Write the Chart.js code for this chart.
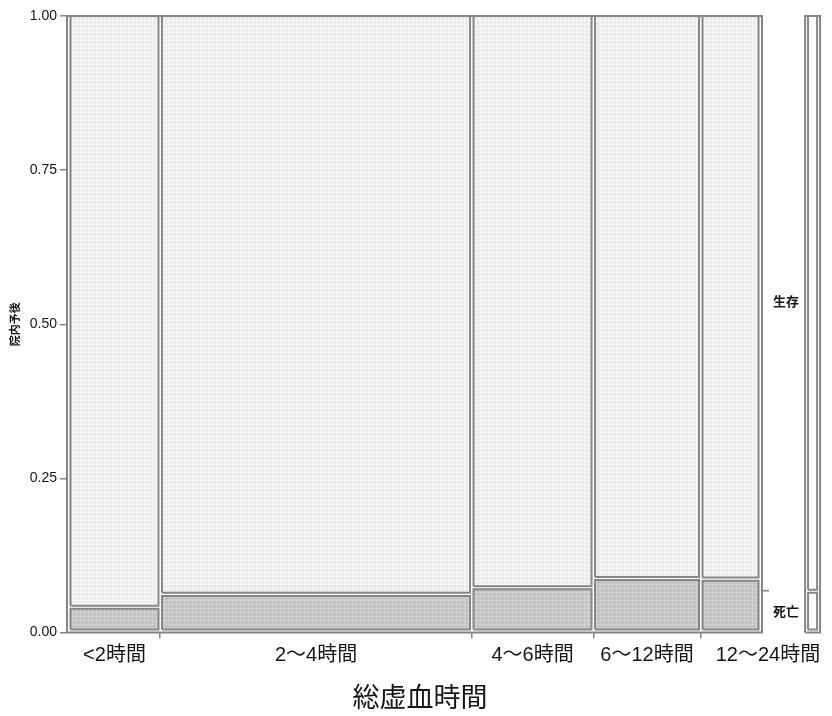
<!DOCTYPE html>
<html lang="ja">
<head>
<meta charset="utf-8">
<title>総虚血時間と院内予後</title>
<script src="https://cdn.jsdelivr.net/npm/chart.js@4"></script>
<style>
  html, body { margin: 0; padding: 0; background: #fff; }
  #wrap { width: 832px; height: 716px; position: relative; }
</style>
</head>
<body>
<div id="wrap"><canvas id="c"></canvas></div>
<script>
// 総虚血時間の区分（横軸）
const categories = ['<2時間', '2〜4時間', '4〜6時間', '6〜12時間', '12〜24時間'];
// 区分ごとの症例数（列の幅になる）
const patients = [88, 308, 118, 104, 56];
// 区分ごとの院内死亡の割合
const deathRate = [0.034, 0.055, 0.066, 0.081, 0.080];
// 縦軸の目盛り
const yTicks = [0, 0.25, 0.5, 0.75, 1];
// 院内予後の水準
const outcomes = ['生存', '死亡'];
const yTitle = '院内予後';
const xTitle = '総虚血時間';

// --- layout of the mosaic (in axis units) ---
const GAP_X = 0.005;              // space between columns
const GAP_Y = 0.005;              // space between stacked cells
const MARGIN_X = [1.062, 1.0835]; // overall-proportion bar beside the plot
const FONT = "'Liberation Sans', 'Noto Sans CJK JP', sans-serif";
const LINE = '#868686';
const TEXT = '#151515';

Chart.defaults.font.family = FONT;

const canvas = document.getElementById('c');
const ctx0 = canvas.getContext('2d');

// fine grid texture used by the cells
function texture(base, line) {
  const t = document.createElement('canvas');
  t.width = 4; t.height = 4;
  const g = t.getContext('2d');
  g.fillStyle = base; g.fillRect(0, 0, 4, 4);
  g.fillStyle = line; g.fillRect(0, 0, 4, 1); g.fillRect(0, 0, 1, 4);
  return ctx0.createPattern(t, 'repeat');
}
const fillAlive = texture('#ebebeb', '#f5f5f5');
const fillDead = texture('#c3c3c3', '#d0d0d0');

function rect(x0, x1, y0, y1) {
  return [{x: x0, y: y0}, {x: x0, y: y1}, {x: x1, y: y1}, {x: x1, y: y0}, {x: x0, y: y0}];
}

// column extents from the case counts
const total = patients.reduce((a, b) => a + b, 0);
const usableX = 1 - (categories.length + 1) * GAP_X;
const usableY = 1 - 2 * GAP_Y;
const columns = [];
let cursor = GAP_X;
patients.forEach((n, i) => {
  const w = n / total * usableX;
  columns.push({x0: cursor, x1: cursor + w, rate: deathRate[i]});
  cursor += w + GAP_X;
});
const boundaries = columns.slice(0, -1).map(c => c.x1 + GAP_X / 2);

// overall death proportion, weighted by case count
const overallRate = patients.reduce((s, n, i) => s + n * deathRate[i], 0) / total;

function cellSets(x0, x1, rate) {
  const split = GAP_Y + rate * usableY;
  return [
    {data: rect(x0, x1, split + GAP_Y, 1), backgroundColor: fillAlive, fill: 'shape'},
    {data: rect(x0, x1, GAP_Y, split), backgroundColor: fillDead, fill: 'shape'}
  ];
}

const datasets = [];
// frames around the plot and the overall bar
datasets.push({data: rect(0, 1, 0, 1), fill: false});
datasets.push({data: rect(MARGIN_X[0], MARGIN_X[1], 0, 1), fill: false});
columns.forEach(c => datasets.push(...cellSets(c.x0, c.x1, c.rate)));
datasets.push(...cellSets(MARGIN_X[0] + GAP_X * 0.85, MARGIN_X[1] - GAP_X * 0.85, overallRate));
datasets.forEach(d => Object.assign(d, {
  showLine: true, pointRadius: 0, pointHoverRadius: 0, borderWidth: 2,
  borderColor: LINE, tension: 0, clip: false, borderJoinStyle: 'miter',
  xAxisID: 'x', yAxisID: 'y'
}));

// right-hand axis: tick at the overall split, outcome names centred on each part
const split = GAP_Y + overallRate * usableY;
const rightTicks = [
  {value: split / 2, label: outcomes[1]},
  {value: split + GAP_Y / 2, label: ''},
  {value: (split + GAP_Y + 1) / 2, label: outcomes[0]}
];

// category names under each column; a name that would collide moves right
const categoryLabels = {
  id: 'categoryLabels',
  afterDraw(chart) {
    const {ctx} = chart;
    const x = chart.scales.x;
    ctx.save();
    ctx.font = '20px ' + FONT;
    ctx.fillStyle = TEXT;
    ctx.textBaseline = 'middle';
    ctx.textAlign = 'left';
    const y = x.top + 23;
    let prevEnd = -Infinity;
    columns.forEach((c, i) => {
      const w = ctx.measureText(categories[i]).width;
      let left = x.getPixelForValue((c.x0 + c.x1) / 2) - w / 2;
      if (left < prevEnd) left = prevEnd + 22;
      left = Math.min(left, chart.width - w - 1);
      ctx.fillText(categories[i], left, y);
      prevEnd = left + w;
    });
    ctx.restore();
  }
};

new Chart(canvas, {
  type: 'scatter',
  data: {datasets},
  plugins: [categoryLabels],
  options: {
    responsive: true,
    maintainAspectRatio: false,
    animation: false,
    events: [],
    layout: {padding: {left: 8, top: 16, right: 0, bottom: 0}},
    scales: {
      x: {
        type: 'linear', min: 0, max: 1, position: 'bottom',
        afterBuildTicks: s => { s.ticks = boundaries.map(v => ({value: v})); },
        afterFit: s => { s.height = 49; },
        ticks: {callback: () => '', autoSkip: false},
        grid: {drawOnChartArea: false, drawTicks: true, tickLength: 6, tickColor: LINE, lineWidth: 1.5},
        border: {display: false}
      },
      y: {
        type: 'linear', min: 0, max: 1, position: 'left',
        afterBuildTicks: s => { s.ticks = yTicks.map(v => ({value: v})); },
        afterFit: s => { s.width = 59; },
        ticks: {callback: v => Number(v).toFixed(2), font: {size: 14}, color: TEXT, padding: 3, autoSkip: false},
        grid: {drawOnChartArea: false, drawTicks: true, tickLength: 7, tickColor: LINE, lineWidth: 1.5},
        border: {display: false},
        title: {display: true, text: yTitle, font: {size: 11, weight: 'bold'}, color: TEXT, padding: {top: 1, bottom: 4}}
      },
      yr: {
        type: 'linear', min: 0, max: 1, position: 'right',
        afterBuildTicks: s => { s.ticks = rightTicks.map(t => ({value: t.value})); },
        afterFit: s => { s.width = 70; },
        ticks: {callback: (v, i) => rightTicks[i].label, font: {size: 13, weight: 'bold'}, color: TEXT, padding: 4, autoSkip: false},
        grid: {
          drawOnChartArea: false, drawTicks: true, tickLength: 7, lineWidth: 1.5,
          tickColor: c => (rightTicks[c.index] && rightTicks[c.index].label === '') ? LINE : 'rgba(0,0,0,0)'
        },
        border: {display: false}
      }
    },
    plugins: {
      legend: {display: false},
      tooltip: {enabled: false},
      title: {
        display: true, text: xTitle, position: 'bottom',
        font: {size: 27, weight: 'normal'}, color: TEXT,
        padding: {top: 2, bottom: 0}
      }
    }
  }
});
</script>
</body>
</html>
